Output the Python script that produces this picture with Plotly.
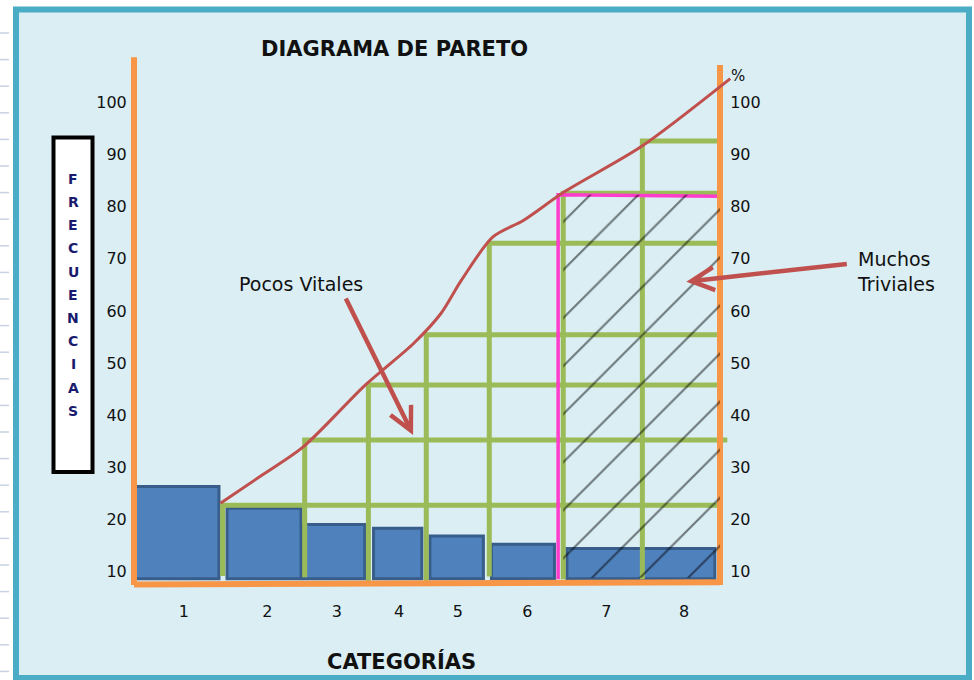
import plotly.graph_objects as go

# ---------------- data ----------------
categories = ["1", "2", "3", "4", "5", "6", "7", "8"]
frequencies = [26.3, 22.1, 19.0, 18.3, 16.8, 15.2, 14.4]          # bar tops (7 & 8 drawn as one bar)
cum_x = [1.18, 1.75, 2.31, 3.16, 3.82, 4.19, 4.47, 4.90, 5.32, 5.88, 6.92, 8.14]
cum_pct = [23.1, 28.5, 33.9, 45.8, 53.8, 59.5, 65.9, 74.2, 77.4, 82.9, 91.5, 104.6]
step_levels = [22.7, 35.2, 45.8, 55.4, 73.0, 82.6, 92.6]           # green staircase levels (%)
cut_level = 82.3                                                    # 80/20 cut (magenta)
tick_vals = [10, 20, 30, 40, 50, 60, 70, 80, 90, 100]
tick_text = [str(v) for v in tick_vals]

# ---------------- layout positions (x in axis units) ----------------
bar_left = [0.01, 1.27, 2.31, 3.27, 4.04, 4.88, 5.91]
bar_right = [1.16, 2.28, 3.15, 3.93, 4.77, 5.74, 7.93]
bar_base = 8.6
label_pos = [0.68, 1.82, 2.77, 3.62, 4.42, 5.37, 6.45, 7.51]
step_x = [1.21, 2.33, 3.20, 3.99, 4.85, 5.86, 6.94]
step_bottom = [9.1, 8.9, 8.0, 7.8, 9.0, 8.5, 8.5]
step_end = [7.98, 8.10, 7.98, 7.98, 7.98, 7.98, 7.98]
cut_x = 5.79
hatch_x = (5.86, 8.0)
hatch_y = (8.8, 82.3)

W, H = 974, 680
ML, MR, MT, MB = 110, 204, 50, 85
PW, PH = W - ML - MR, H - MT - MB
XR = [-0.3277, 8.6826]
YR = [5.47, 110.08]


def px(x):
    return (x - ML) / PW


def py(y):
    return (H - MB - y) / PH


fig = go.Figure()

centers = [(l + r) / 2 for l, r in zip(bar_left, bar_right)]
widths = [r - l for l, r in zip(bar_left, bar_right)]
fig.add_trace(go.Bar(
    x=centers, y=[f - bar_base for f in frequencies], base=bar_base, width=widths,
    marker=dict(color="#4F81BD", line=dict(color="#385D8A", width=3)),
    hoverinfo="skip", xaxis="x", yaxis="y"))

gx, gy = [], []
for x, lv, b, e in zip(step_x, step_levels, step_bottom, step_end):
    gx += [x, x, e, None]
    gy += [b, lv, lv, None]
fig.add_trace(go.Scatter(x=gx, y=gy, mode="lines", line=dict(color="#9BBB59", width=5),
                         hoverinfo="skip", xaxis="x", yaxis="y"))

fig.add_trace(go.Scatter(x=[cut_x, cut_x, 8.0], y=[8.5, cut_level, cut_level - 0.3], mode="lines",
                         line=dict(color="#FF3CCB", width=3.5), hoverinfo="skip", xaxis="x", yaxis="y"))

# orange axes frame
fig.add_trace(go.Scatter(x=[0, 0, None, 0, 8.0, None, 8.0, 8.0],
                         y=[108.7, 7.4, None, 7.5, 7.9, None, 7.4, 107.2], mode="lines",
                         line=dict(color="#F79646", width=6), hoverinfo="skip", xaxis="x", yaxis="y"))

# hatch of the "trivial many" area
fig.add_trace(go.Bar(
    x=[(hatch_x[0] + hatch_x[1]) / 2], y=[hatch_y[1] - hatch_y[0]], base=hatch_y[0],
    width=[hatch_x[1] - hatch_x[0]],
    marker=dict(color="rgba(0,0,0,0)", line=dict(width=0),
                pattern=dict(shape="/", fgcolor="#000000", bgcolor="rgba(0,0,0,0)",
                             size=34, solidity=0.06, fillmode="overlay")),
    hoverinfo="skip", xaxis="x2", yaxis="y2"))

# cumulative curve
fig.add_trace(go.Scatter(x=cum_x, y=cum_pct, mode="lines",
                         line=dict(color="#C0504D", width=3, shape="spline", smoothing=0.8),
                         hoverinfo="skip", xaxis="x2", yaxis="y2"))

tickfont = dict(family="DejaVu Sans", size=16, color="#111111")
fig.update_layout(
    width=W, height=H, margin=dict(l=ML, r=MR, t=MT, b=MB),
    paper_bgcolor="white", plot_bgcolor="rgba(0,0,0,0)", showlegend=False, barmode="overlay",
    xaxis=dict(range=XR, tickvals=label_pos, ticktext=categories, ticks="outside", ticklen=2,
               tickcolor="rgba(0,0,0,0)", showgrid=False, zeroline=False, showline=False,
               tickfont=tickfont),
    xaxis2=dict(range=XR, overlaying="x", visible=False),
    yaxis=dict(range=YR, anchor="free", position=px(134), side="left", tickvals=tick_vals,
               ticktext=tick_text, ticks="outside", ticklen=4, tickcolor="rgba(0,0,0,0)",
               showgrid=False, zeroline=False, showline=False, tickfont=tickfont),
    yaxis2=dict(range=YR, overlaying="y", anchor="free", position=px(720), side="right",
                tickvals=tick_vals, ticktext=tick_text, ticks="outside", ticklen=6,
                tickcolor="rgba(0,0,0,0)", showgrid=False, zeroline=False, showline=False,
                tickfont=tickfont),
)

shapes = [
    dict(type="rect", xref="paper", yref="paper", x0=px(16), x1=px(969), y0=py(9.5), y1=py(678),
         line=dict(color="#4BACC6", width=6), fillcolor="#DAEEF3", layer="below"),
    dict(type="rect", xref="paper", yref="paper", x0=px(53.5), x1=px(92.5), y0=py(137.5), y1=py(472),
         line=dict(color="#000000", width=4), fillcolor="white", layer="below"),
]
for k in range(25):
    yy = 33 + 26.6 * k
    shapes.append(dict(type="line", xref="paper", yref="paper", x0=px(0), x1=px(9), y0=py(yy), y1=py(yy),
                       line=dict(color="#C9D2E3", width=1.5), layer="below"))
fig.update_layout(shapes=shapes)

dark = "#111111"
ann = [
    dict(text="<b>DIAGRAMA DE PARETO</b>", x=px(394), y=py(49), xref="paper", yref="paper",
         xanchor="center", yanchor="middle", showarrow=False,
         font=dict(family="DejaVu Sans", size=21, color=dark)),
    dict(text="<b>CATEGORÍAS</b>", x=px(401), y=py(661), xref="paper", yref="paper",
         xanchor="center", yanchor="middle", showarrow=False,
         font=dict(family="DejaVu Sans", size=21, color=dark)),
    dict(text="%", x=px(738), y=py(76), xref="paper", yref="paper", xanchor="center", yanchor="middle",
         showarrow=False, font=dict(family="DejaVu Sans", size=15, color=dark)),
    dict(text="Pocos Vitales", x=1.406, y=65.16, xref="x", yref="y", xanchor="left", yanchor="middle",
         showarrow=False, font=dict(family="DejaVu Sans", size=19, color=dark)),
    dict(text="Muchos<br>Triviales", x=px(855), y=py(271), xref="paper", yref="paper",
         xanchor="left", yanchor="middle", align="left", showarrow=False,
         font=dict(family="DejaVu Sans", size=19, color=dark)),
    dict(text="", x=3.81, y=36.2, xref="x", yref="y", ax=-68, ay=-138, showarrow=True,
         arrowhead=5, arrowwidth=4.5, arrowsize=1, arrowcolor="#C0504D"),
    dict(text="", x=7.54, y=65.6, xref="x", yref="y", ax=162, ay=-18, showarrow=True,
         arrowhead=5, arrowwidth=4.5, arrowsize=1, arrowcolor="#C0504D"),
]
for i, ch in enumerate("FRECUENCIAS"):
    ann.append(dict(text="<b>" + ch + "</b>", x=px(73), y=py(178.8 + 23.2 * i), xref="paper", yref="paper",
                    xanchor="center", yanchor="middle", showarrow=False,
                    font=dict(family="DejaVu Sans", size=14, color="#1A1A6E")))
fig.update_layout(annotations=ann)

fig.write_html("out.html")
